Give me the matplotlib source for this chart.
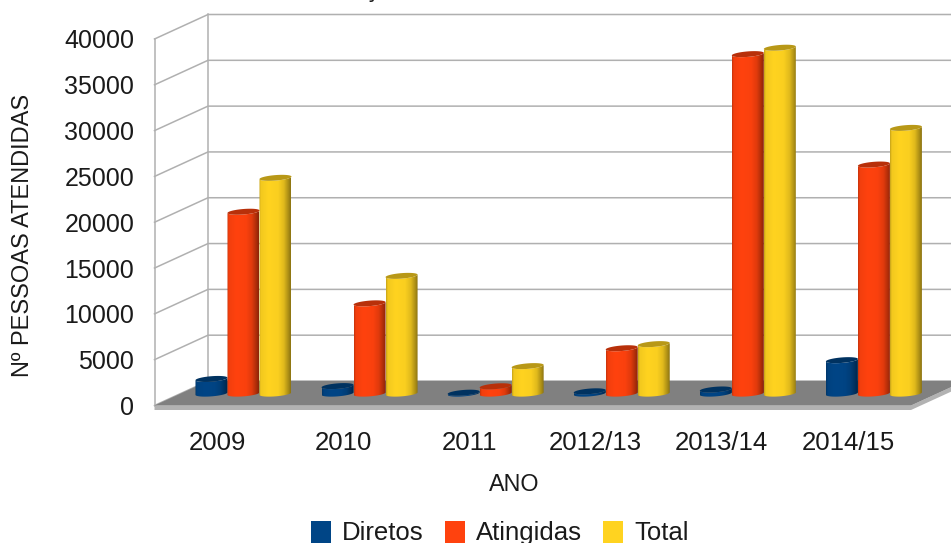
import numpy as np
import matplotlib
matplotlib.use("Agg")
import matplotlib.pyplot as plt
from matplotlib.patches import Polygon, Patch
from matplotlib.colors import to_rgb

plt.rcParams['font.family'] = ['Liberation Sans', 'DejaVu Sans']

anos = ['2009', '2010', '2011', '2012/13', '2013/14', '2014/15']
diretos = [1600, 820, 100, 250, 450, 3650]
atingidas = [19850, 9850, 800, 4950, 37050, 25000]
total = [23550, 12850, 3000, 5400, 37750, 29000]
y_ticks = [0, 5000, 10000, 15000, 20000, 25000, 30000, 35000, 40000]

series = [('Diretos', diretos, '#004586'),
          ('Atingidas', atingidas, '#ff420e'),
          ('Total', total, '#ffd320')]

W, H = 951, 543
fig = plt.figure(figsize=(W / 100, H / 100), dpi=100)
# axes = front plane of the 3d box, in pixels
left, right, top, bottom = 154.5, 911, 39, 405.5
ax = fig.add_axes([left / W, 1 - bottom / H, (right - left) / W, (bottom - top) / H])
ax.set_xlim(0, 6)
ax.set_ylim(0, 40000)
px_x = (right - left) / 6
px_y = (bottom - top) / 40000

# depth of the box expressed in data units
DX = 53.5 / px_x
DY = 24.5 / px_y
GRID = '#b0b0b0'


def project(x, v, f):
    return x + f * DX, v + f * DY


# floor and its front lip
lip = 4.5 / px_y
ax.add_patch(Polygon([project(0, 0, 0), project(6, 0, 0), project(6, 0, 1), project(0, 0, 1)],
                     closed=True, fc='#808080', ec='none', zorder=2, clip_on=False))
ax.add_patch(Polygon([(0, 0), (6, 0), project(6, 0, 1), (6 + DX, DY - lip), (6, -lip), (0, -lip)],
                     closed=True, fc='#b2b2b2', ec='none', zorder=1, clip_on=False))

# side wall and back wall lines
for v in y_ticks:
    x0, y0 = project(0, v, 0)
    x1, y1 = project(0, v, 1)
    x2, y2 = project(6, v, 1)
    ax.plot([x0, x1, x2], [y0, y1, y2], color=GRID, lw=1.1, clip_on=False, zorder=0.5,
            solid_joinstyle='miter')
ax.plot([0, 0], [0, 40000], color=GRID, lw=1.1, clip_on=False, zorder=0.5)
x1, y1 = project(0, 0, 1)
ax.plot([x1, x1], [y1, y1 + 40000], color=GRID, lw=1.1, clip_on=False, zorder=0.5)

# left to right shading of a cylinder
pos = np.array([0, 0.05, 0.3, 0.6, 0.78, 0.92, 1])
shade = np.array([0.78, 0.95, 1.0, 0.98, 0.88, 0.68, 0.55])
ramp = np.interp(np.linspace(0, 1, 64), pos, shade)

bar_w = 32.0 / px_x
ell_h = 5.5 / px_y
tilt = 2.5 / px_y  # rise of a cylinder rim from its left side to its right side
t = np.linspace(np.pi, 2 * np.pi, 40)
t_full = np.linspace(0, 2 * np.pi, 80)


def rim(cx, level, angles):
    xs = cx + bar_w / 2 * np.cos(angles)
    ys = level + ell_h / 2 * np.sin(angles) + tilt * np.cos(angles) / 2
    return list(zip(xs, ys))


for s, (name, values, color) in enumerate(series):
    rgb = np.array(to_rgb(color))
    img = np.clip(ramp[None, :, None] * rgb[None, None, :], 0, 1)
    for i, v in enumerate(values):
        cx, base = project(i + 0.5 + (s - 1) * bar_w, 0, 0.485)
        vtop = base + v
        z = 3 + s + i * 0.01
        # body outline: rim along the bottom, then up to the top rim
        outline = rim(cx, base, t) + rim(cx, vtop, t[::-1])
        clip = Polygon(outline, closed=True, transform=ax.transData)
        im = ax.imshow(img, extent=[cx - bar_w / 2, cx + bar_w / 2, base - 2 * ell_h, vtop + 2 * ell_h],
                       aspect='auto', interpolation='bilinear', zorder=z)
        im.set_clip_path(clip)
        im.set_clip_box(fig.bbox)
        ax.add_patch(Polygon(rim(cx, vtop, t_full), closed=True, fc=rgb * 0.72, ec='none',
                             zorder=z + 0.001, clip_on=False))

ax.set_xlim(0, 6)
ax.set_ylim(0, 40000)

for sp in ax.spines.values():
    sp.set_visible(False)
ax.patch.set_visible(False)
ax.set_xticks(np.arange(6) + 0.5)
ax.set_xticklabels(anos)
ax.set_yticks(y_ticks)
ax.tick_params(axis='x', length=0, pad=18, labelsize=18.5, labelcolor='#1a1a1a')
ax.tick_params(axis='y', length=0, pad=14.5, labelsize=18, labelcolor='#1a1a1a')
ax.set_xlabel('ANO', fontsize=16.8, color='#1a1a1a')
ax.set_ylabel('Nº PESSOAS ATENDIDAS', fontsize=17, color='#1a1a1a')
ax.yaxis.set_label_coords(-0.159, 0.463)
ax.xaxis.set_label_coords(0.476, -0.183)

handles = [Patch(fc=c, ec='none', label=n) for n, _, c in series]
fig.legend(handles=handles, ncol=3, loc='center', bbox_to_anchor=(499.5 / W, 1 - 533 / H),
           frameon=False, fontsize=18.5, handlelength=0.78, handleheight=0.95,
           handletextpad=0.42, columnspacing=0.84, labelcolor='#1a1a1a')

# title sits above the top edge, only its tail shows
fig.text(371 / W, 1 + 3 / H, 'ç', fontsize=17.5, ha='center', va='baseline', color='#1a1a1a')

fig.savefig('out.png', dpi=100)
